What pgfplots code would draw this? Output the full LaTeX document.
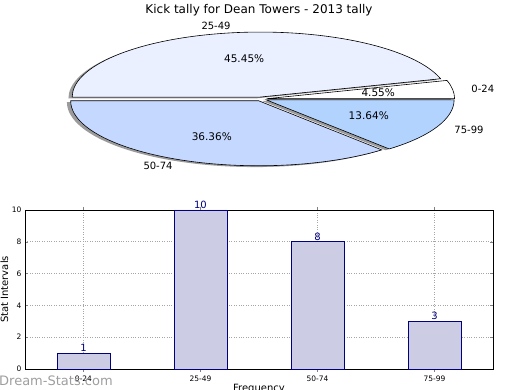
\documentclass[border=0pt]{standalone}
\usepackage{pgfplots}
\pgfplotsset{compat=1.18}
\usepackage{fontspec}
\setmainfont{DejaVu Sans}
\definecolor{sA}{HTML}{FFFFFF}
\definecolor{sB}{HTML}{EAF0FF}
\definecolor{sC}{HTML}{C5D8FF}
\definecolor{sD}{HTML}{B3D3FF}
\definecolor{barfill}{HTML}{CCCCE5}
\definecolor{navy}{HTML}{000080}
\begin{document}
\begin{tikzpicture}[x=1pt,y=1pt]
\path[use as bounding box] (0,0) rectangle (520,390);
\node[font=\fontsize{12}{14}\selectfont] at (259,380) {Kick tally for Dean Towers - 2013 tally};
% ---------- pie ----------
\begin{axis}[at={(261pt,291pt)}, anchor=origin, x=188pt, y=65pt,
  xmin=-1.3, xmax=1.3, ymin=-1.3, ymax=1.3, hide axis, clip=false]
\def\e{0.03}
% values: 1, 10, 8, 3 (total 22)
\foreach \a/\b/\col/\lab/\pct/\side in {0/16.3636/sA/0-24/4.55/west,16.3636/180/sB/25-49/45.45/east,180/310.9091/sC/50-74/36.36/east,310.9091/360/sD/75-99/13.64/west}{
  \pgfmathsetmacro{\m}{(\a+\b)/2}
  \pgfmathsetmacro{\ox}{\e*cos(\m)}
  \pgfmathsetmacro{\oy}{\e*sin(\m)}
  \pgfmathsetmacro{\sx}{\ox-0.02}
  \pgfmathsetmacro{\sy}{\oy-0.02}
  \edef\tmp{\noexpand\fill[black!60, opacity=0.65] (axis cs:\sx,\sy) -- ++(axis direction cs:{cos(\a)},{sin(\a)}) arc[start angle=\a, end angle=\b, radius=1] -- cycle;}
  \tmp
}
\foreach \a/\b/\col/\lab/\pct/\side in {0/16.3636/sA/0-24/4.55/west,16.3636/180/sB/25-49/45.45/east,180/310.9091/sC/50-74/36.36/east,310.9091/360/sD/75-99/13.64/west}{
  \pgfmathsetmacro{\m}{(\a+\b)/2}
  \pgfmathsetmacro{\ox}{\e*cos(\m)}
  \pgfmathsetmacro{\oy}{\e*sin(\m)}
  \pgfmathsetmacro{\px}{\ox+0.6*cos(\m)}
  \pgfmathsetmacro{\py}{\oy+0.6*sin(\m)}
  \pgfmathsetmacro{\lx}{\ox+1.1*cos(\m)}
  \pgfmathsetmacro{\ly}{\oy+1.1*sin(\m)}
  \edef\tmp{\noexpand\filldraw[fill=\col, draw=black, line width=0.6pt] (axis cs:\ox,\oy) -- ++(axis direction cs:{cos(\a)},{sin(\a)}) arc[start angle=\a, end angle=\b, radius=1] -- cycle;
  \noexpand\node[font=\noexpand\fontsize{10.5}{12}\noexpand\selectfont] at (axis cs:\px,\py) {\pct\noexpand\%};
  \noexpand\node[font=\noexpand\fontsize{10}{12}\noexpand\selectfont, anchor=\side, inner sep=0pt] at (axis cs:\lx,\ly) {\lab};}
  \tmp
}
\end{axis}
% ---------- bars ----------
\begin{axis}[at={(25pt,21pt)}, anchor=south west, scale only axis,
  width=468pt, height=159pt,
  xmin=-0.5, xmax=3.5, ymin=0, ymax=10,
  xtick={0,1,2,3}, xticklabels={0-24,25-49,50-74,75-99},
  ytick={0,2,4,6,8,10},
  tick align=inside, tick pos=both,
  major tick length=3pt,
  tick label style={font=\fontsize{7.5}{8}\selectfont},
  /pgf/number format/assume math mode=true,
  grid=major, major grid style={dotted, gray!70, line width=0.6pt},
  axis line style={black, line width=0.6pt},
  ylabel={Stat Intervals}, ylabel style={font=\fontsize{10}{12}\selectfont, at={(-0.044,0.5)}, anchor=center},
  xlabel={Frequency}, xlabel style={font=\fontsize{10}{12}\selectfont, at={(0.5,-0.095)}, anchor=north, inner sep=0pt},
  ybar, bar width=0.45,
  nodes near coords, every node near coord/.style={font=\fontsize{10}{12}\selectfont, text=navy, inner sep=1pt},
  clip=false]
\addplot[fill=barfill, draw=navy, line width=0.6pt] coordinates {(0,1) (1,10) (2,8) (3,3)};
\end{axis}
\node[anchor=west, text=black!38, font=\fontsize{13}{15}\selectfont, inner sep=0pt] at (-1,9.5) {Dream-Stats.com};
\end{tikzpicture}
\end{document}
